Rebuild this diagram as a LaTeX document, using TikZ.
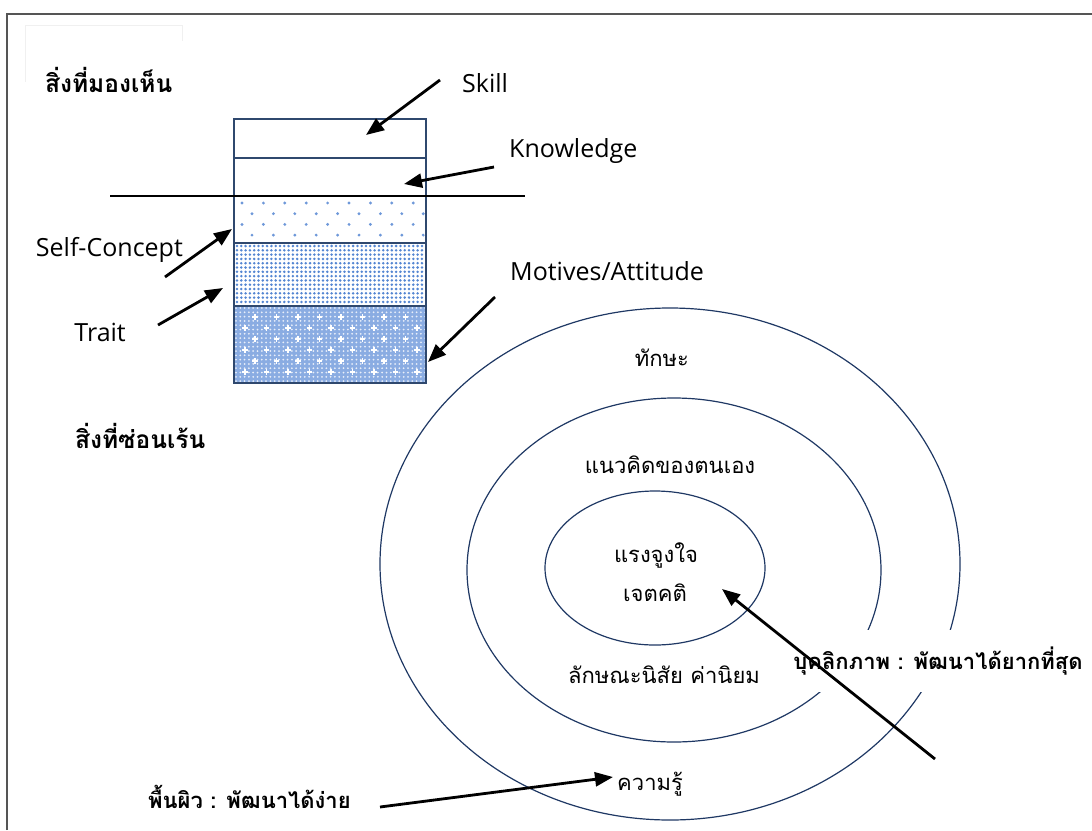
\documentclass[tikz,border=0pt]{standalone}
\usepackage{fontspec}
\setmainfont{Open Sans}
\newfontfamily\thai[Script=Thai]{Loma}
\usetikzlibrary{arrows.meta}
\definecolor{boxline}{RGB}{47,72,110}
\definecolor{ringc}{RGB}{31,56,100}
\definecolor{dotblue}{RGB}{84,134,210}
\definecolor{hatch}{RGB}{138,172,226}
\definecolor{framec}{RGB}{85,85,85}
\begin{document}
\begin{tikzpicture}[x=1pt,y=-1pt,
  lat/.style={font=\fontsize{25}{29}\selectfont, inner sep=0pt},
  th/.style={font=\thai\fontsize{22}{26}\selectfont, inner sep=0pt},
  thb/.style={font=\thai\bfseries\fontsize{22}{26}\selectfont, inner sep=0pt},
  thbig/.style={font=\thai\bfseries\fontsize{24.5}{28}\selectfont, inner sep=0pt},
  arr/.style={line width=2.8pt, -{Triangle[length=18pt,width=14pt]}},
  ringl/.style={draw=ringc, line width=1.2pt},
]
\useasboundingbox (0,0) rectangle (1092,830);
% frame
\draw[framec, line width=1.5pt] (7,830) -- (7,14) -- (1092,14);
\draw[gray!12, line width=1pt] (25,82) -- (25,25) -- (182,25) -- (182,41);

% row 5 : hatch
\fill[hatch] (234,306) rectangle (426,383);
\foreach \i in {0,...,44} \foreach \j in {0,...,17}
  \fill[white!80!hatch] (236+\i*4.3, 308+\j*4.3) circle (1.0);
\foreach \j in {0,...,5} {
  \pgfmathsetmacro{\yy}{317+\j*11}
  \pgfmathsetmacro{\xo}{mod(\j,2)==0 ? 255 : 245}
  \foreach \i in {0,...,8} {
    \pgfmathsetmacro{\xx}{\xo+\i*21.5}
    \ifdim \xx pt<424pt
    \draw[white, line width=1.4pt] (\xx-2.8,\yy) -- (\xx+2.8,\yy) (\xx,\yy-2.8) -- (\xx,\yy+2.8);
    \fi
  }
}
% row 4 : dense dots
\foreach \i in {0,...,43} \foreach \j in {0,...,13}
  \fill[dotblue] (237+\i*4.3, 246+\j*4.3) circle (1.4);
% row 3 : sparse dots
\foreach \j in {0,...,3} {
  \pgfmathsetmacro{\yy}{203+\j*10.7}
  \pgfmathsetmacro{\xo}{mod(\j,2)==0 ? 242 : 252}
  \foreach \i in {0,...,8} {
    \fill[dotblue!85] (\xo+\i*21.4,\yy) circle (1.6);
  }
}
% box borders
\draw[boxline, line width=1.2pt] (234,119) rectangle (426,383);
\foreach \yy in {158,243,306} \draw[boxline, line width=1.2pt] (234,\yy) -- (426,\yy);
\draw[line width=1.6pt] (110,196) -- (525,196);

% ellipses
\draw[ringl] (670,564) ellipse [x radius=290, y radius=256];
\draw[ringl] (674,570) ellipse [x radius=207, y radius=172];
\draw[ringl] (655,568) ellipse [x radius=110, y radius=77];

% texts left
\node[thbig, anchor=west] (seen) at (45,80) {สิ่งที่มองเห็น};
\node[thbig, anchor=west] (hidden) at (75,436) {สิ่งที่ซ่อนเร้น};
\node[lat, anchor=west] (skill) at (462,83) {Skill};
\node[lat, anchor=west] (know) at (509,151) {Knowledge};
\node[lat, anchor=east] (self) at (183,250) {Self-Concept};
\node[lat, anchor=east] (trait) at (126,332) {Trait};
\node[lat, anchor=west] (motive) at (510,271) {Motives/Attitude};

% circle labels
\node[th] (tak) at (662,358) {ทักษะ};
\node[th] (naew) at (670,465) {แนวคิดของตนเอง};
\node[th] (raeng) at (656,555) {แรงจูงใจ};
\node[th] (jet) at (655,593) {เจตคติ};
\node[th] (lak) at (664,675) {ลักษณะนิสัย ค่านิยม};
\node[th, anchor=west] (kwam) at (617,784) {ความรู้};
\node[thb, fill=white, minimum height=62pt, inner xsep=4pt] (pers) at (938,661) {บุคลิกภาพ : พัฒนาได้ยากที่สุด};
\node[thb, anchor=west] (surf) at (148,797) {พื้นผิว : พัฒนาได้ง่าย};

% arrows
\coordinate (skT) at (440,80);   \coordinate (skH) at (366,135);
\coordinate (knT) at (494,167);  \coordinate (knH) at (404,184);
\coordinate (scT) at (165,277);  \coordinate (scH) at (232,229);
\coordinate (trT) at (158,325);  \coordinate (trH) at (223,288);
\coordinate (moT) at (495,297);  \coordinate (moH) at (428,362);
\coordinate (peT) at (935,759);  \coordinate (peH) at (722,589);
\coordinate (suT) at (380,807);  \coordinate (suH) at (613,777);
\draw[arr] (skT) -- (skH);
\draw[arr] (knT) -- (knH);
\draw[arr] (scT) -- (scH);
\draw[arr] (trT) -- (trH);
\draw[arr] (moT) -- (moH);
\draw[arr] (peT) -- (peH);
\draw[arr] (suT) -- (suH);
\end{tikzpicture}
\end{document}
